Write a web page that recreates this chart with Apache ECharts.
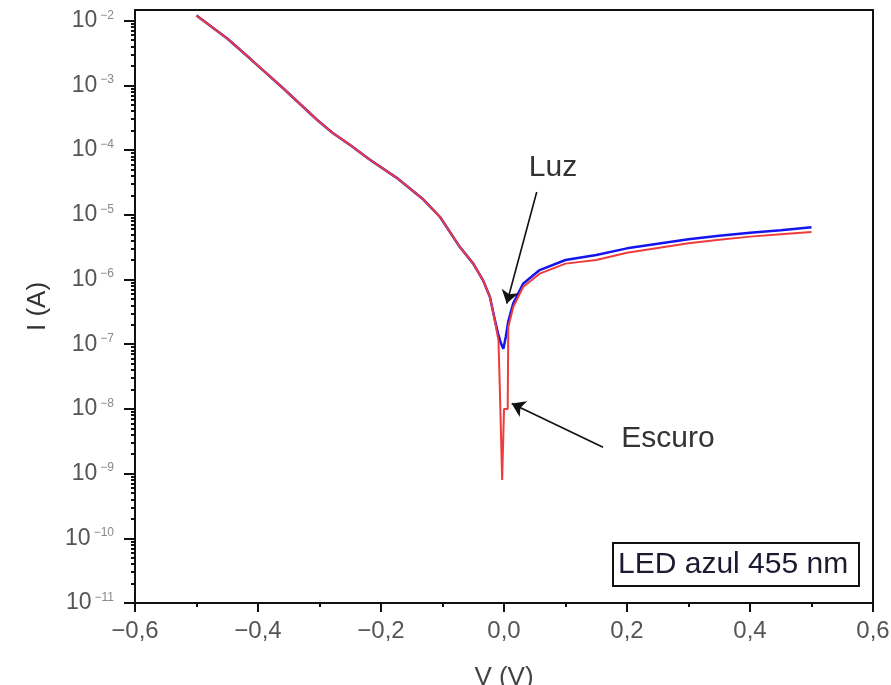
<!DOCTYPE html>
<html><head><meta charset="utf-8">
<script src="https://cdn.jsdelivr.net/npm/echarts@6/dist/echarts.min.js"></script>
<style>html,body{margin:0;padding:0;background:#fff}#c{width:891px;height:685px}</style>
</head><body><div id="c"></div>
<script>
// Dark ("Escuro") I-V curve
const V_dark = [-0.5, -0.45, -0.413, -0.36, -0.305, -0.279, -0.248, -0.218, -0.175, -0.131, -0.104, -0.072, -0.05, -0.034, -0.023, -0.015, -0.009, -0.007, -0.003, 0.0, 0.006, 0.007, 0.015, 0.031, 0.058, 0.1, 0.15, 0.2, 0.25, 0.3, 0.35, 0.4, 0.45, 0.5];
const I_dark = [1.2e-2, 5.3e-3, 2.6e-3, 9.2e-4, 3.0e-4, 1.86e-4, 1.16e-4, 7.1e-5, 3.76e-5, 1.72e-5, 9.25e-6, 3.2e-6, 1.76e-6, 9.7e-7, 5.4e-7, 2.35e-7, 1.15e-7, 2.5e-8, 8e-10, 1.0e-8, 1.0e-8, 1.85e-7, 3.76e-7, 7.65e-7, 1.23e-6, 1.76e-6, 2.0e-6, 2.6e-6, 3.08e-6, 3.63e-6, 4.1e-6, 4.6e-6, 5.0e-6, 5.4e-6];
// Illuminated ("Luz") I-V curve
const V_light = [-0.5, -0.45, -0.413, -0.36, -0.305, -0.279, -0.248, -0.218, -0.175, -0.131, -0.104, -0.072, -0.05, -0.034, -0.023, -0.015, -0.0098, -0.005, -0.001, 0.003, 0.007, 0.015, 0.031, 0.058, 0.1, 0.15, 0.2, 0.25, 0.3, 0.35, 0.4, 0.45, 0.5];
const I_light = [1.2e-2, 5.3e-3, 2.6e-3, 9.2e-4, 3.0e-4, 1.86e-4, 1.16e-4, 7.1e-5, 3.76e-5, 1.72e-5, 9.25e-6, 3.2e-6, 1.76e-6, 9.7e-7, 5.4e-7, 2.4e-7, 1.47e-7, 1.03e-7, 8.5e-8, 1.32e-7, 2.26e-7, 4.3e-7, 8.6e-7, 1.4e-6, 2.0e-6, 2.4e-6, 3.03e-6, 3.57e-6, 4.18e-6, 4.73e-6, 5.27e-6, 5.76e-6, 6.4e-6];
// Axis ticks
const xMin = -0.6, xMax = 0.6, xStep = 0.2;
const yDecadeExp = [-11, -10, -9, -8, -7, -6, -5, -4, -3, -2];
const yMin = 1e-11, yMax = 0.01464;
// Annotations
const luzArrow = [[0.0532, 2.25e-5], [0.0044, 4.25e-7]];
const escuroArrow = [[0.161, 2.55e-9], [0.0125, 1.21e-8]];
const luzText = [0.0797, 5.3e-5];
const escuroText = [0.2667, 3.4e-9];
const boxText = 'LED azul 455 nm';

const FONT = "'Liberation Sans', Arial, sans-serif";
const decades = yDecadeExp.map(e => Math.pow(10, e));
const minors = [];
yDecadeExp.forEach(e => { for (let m = 2; m <= 9; m++) minors.push(m * Math.pow(10, e)); });

const chart = echarts.init(document.getElementById('c'));
chart.setOption({
  animation: false,
  backgroundColor: '#fff',
  textStyle: { fontFamily: FONT },
  grid: { left: 135, right: 18, top: 10, bottom: 82, show: true, borderColor: '#111', borderWidth: 2, backgroundColor: 'transparent', outerBoundsMode: 'none' },
  xAxis: {
    type: 'value', min: xMin, max: xMax, interval: xStep,
    axisLine: { onZero: false, lineStyle: { color: '#111', width: 2 } },
    axisTick: { length: 9, lineStyle: { color: '#111', width: 2 } },
    minorTick: { show: true, splitNumber: 2, length: 4, lineStyle: { color: '#111', width: 2 } },
    splitLine: { show: false }, minorSplitLine: { show: false },
    axisLabel: { formatter: v => (v < -1e-9 ? '\u2212' : '') + Math.abs(v).toFixed(1).replace('.', ','), fontSize: 24, color: '#555', margin: 16, fontFamily: FONT },
    name: 'V (V)', nameLocation: 'middle', nameGap: 62, nameTextStyle: { fontSize: 26, color: '#444', fontFamily: FONT }
  },
  yAxis: [{
    type: 'log', logBase: 10, min: yMin, max: yMax, position: 'left',
    axisLine: { onZero: false, lineStyle: { color: '#111', width: 2 } },
    axisTick: { length: 11, customValues: decades, lineStyle: { color: '#111', width: 2 } },
    splitLine: { show: false }, minorTick: { show: false },
    axisLabel: {
      customValues: decades, margin: 21,
      formatter: v => '{b|10}{s|\u2212' + Math.abs(Math.round(Math.log10(v))) + '}',
      rich: {
        b: { fontSize: 23, color: '#555', fontFamily: FONT },
        s: { fontSize: 12, color: '#888', verticalAlign: 'top', padding: [0, 0, 0, 3], fontFamily: FONT }
      }
    },
    name: 'I (A)', nameLocation: 'middle', nameGap: 84, nameTextStyle: { fontSize: 26, color: '#333', fontFamily: FONT }
  }, {
    type: 'log', logBase: 10, min: yMin, max: yMax, position: 'left', offset: 0,
    axisLine: { show: false, onZero: false },
    axisTick: { length: 4, customValues: minors, lineStyle: { color: '#111', width: 2 } },
    axisLabel: { show: false }, splitLine: { show: false }
  }],
  series: [{
    name: 'Luz', type: 'line', yAxisIndex: 0, showSymbol: false, symbol: 'none', z: 2,
    data: V_light.map((v, i) => [v, I_light[i]]),
    lineStyle: { color: '#1414ee', width: 2.5 }
  }, {
    name: 'Escuro', type: 'line', yAxisIndex: 0, showSymbol: false, symbol: 'none', z: 3,
    data: V_dark.map((v, i) => [v, I_dark[i]]),
    lineStyle: { color: '#ee3b3b', width: 2 },
    markLine: {
      silent: true, symbol: ['none', 'arrow'], symbolSize: 13, animation: false,
      itemStyle: { color: '#111' },
      lineStyle: { color: '#111', width: 1.6, type: 'solid' }, label: { show: false },
      data: [
        [{ coord: luzArrow[0] }, { coord: luzArrow[1] }],
        [{ coord: escuroArrow[0] }, { coord: escuroArrow[1] }]
      ]
    },
    markPoint: {
      silent: true, symbol: 'circle', symbolSize: 1, itemStyle: { color: 'rgba(0,0,0,0)' },
      label: { show: true, position: 'inside', fontSize: 30, color: '#333', fontFamily: FONT, formatter: p => p.name },
      data: [
        { name: 'Luz', coord: luzText },
        { name: 'Escuro', coord: escuroText }
      ]
    }
  }],
  graphic: [{
    type: 'group', right: 31, bottom: 98,
    children: [
      { type: 'rect', shape: { x: 0, y: 0, width: 246, height: 43 }, style: { fill: '#fff', stroke: '#111', lineWidth: 2 } },
      { type: 'text', x: 5, y: 22, style: { text: boxText, fontSize: 30, fill: '#1a1a30', fontFamily: FONT, textVerticalAlign: 'middle' } }
    ]
  }]
});
</script></body></html>
